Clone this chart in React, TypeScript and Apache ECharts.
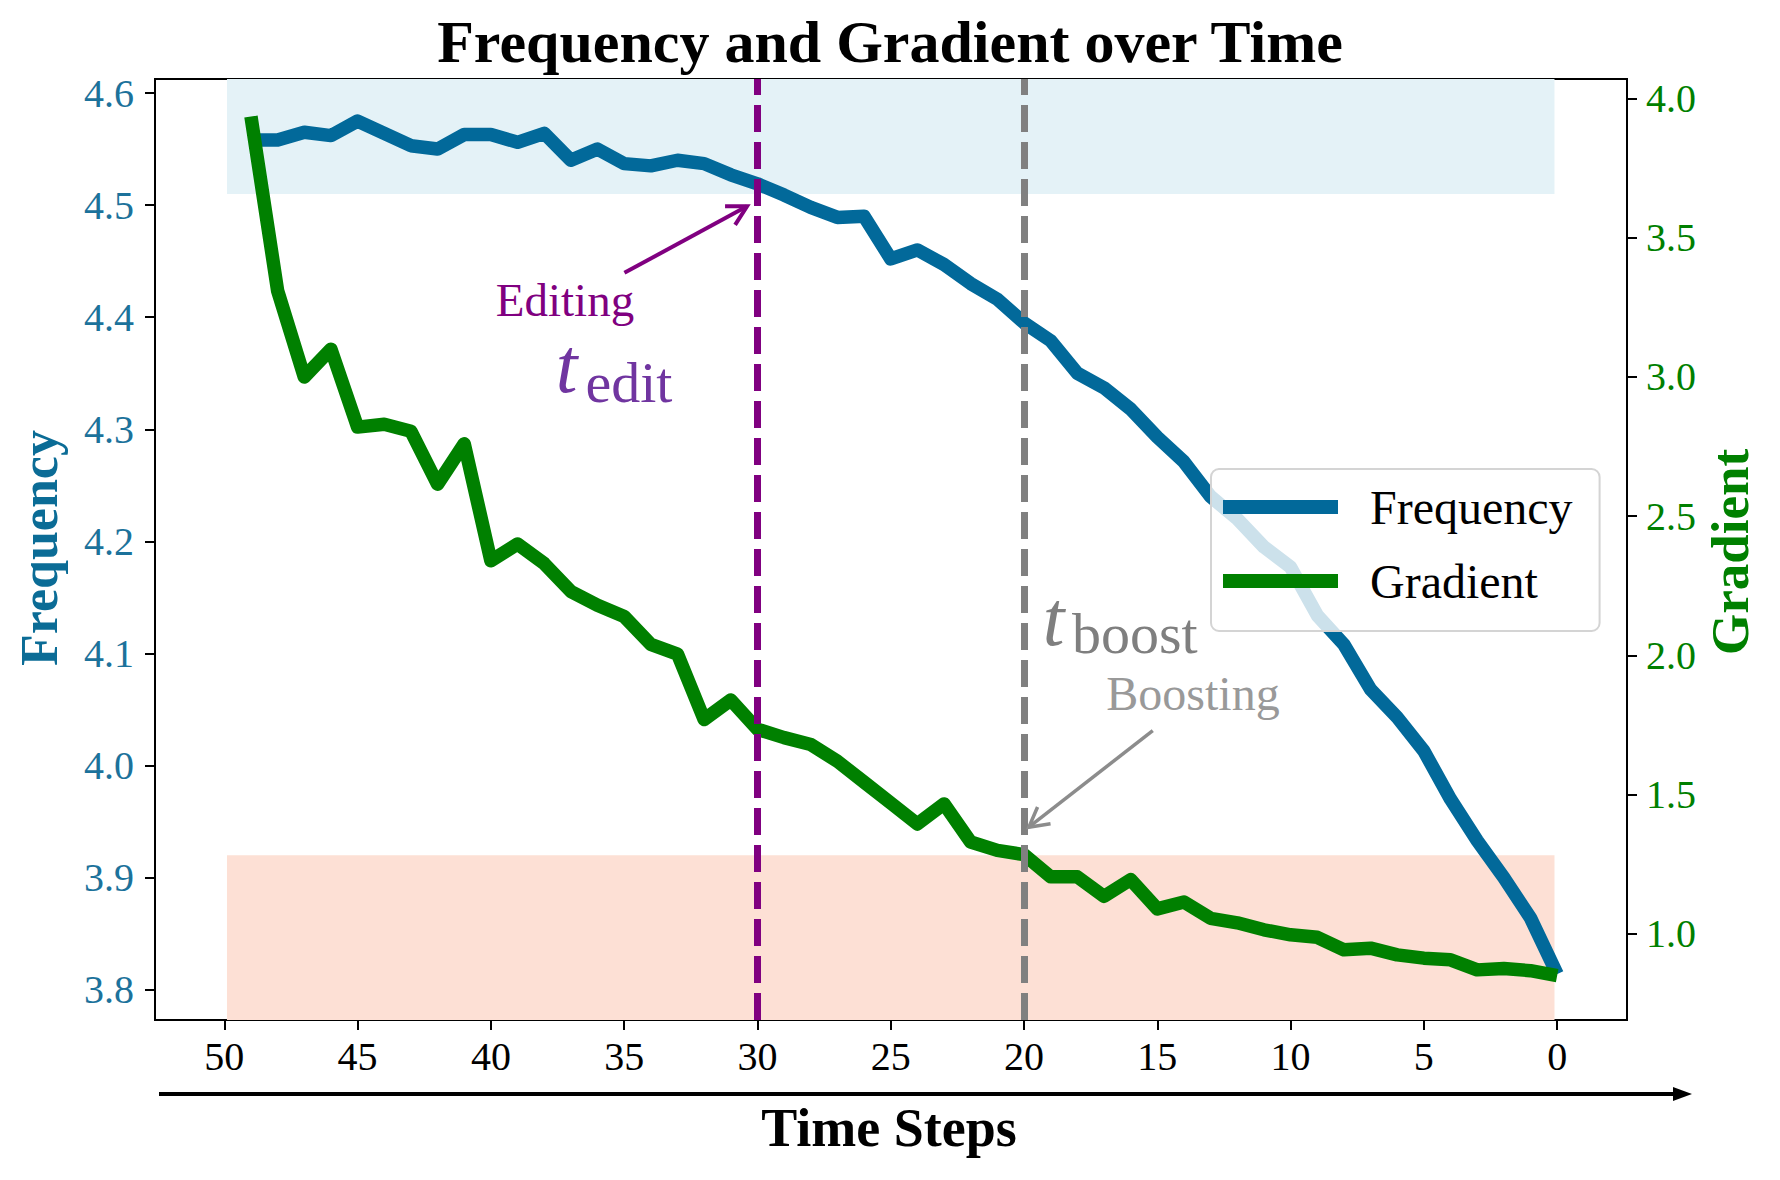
import React, { useEffect, useRef } from "react";
import * as echarts from "echarts";

// ---- data ----
const timeSteps = [49, 48, 47, 46, 45, 44, 43, 42, 41, 40, 39, 38, 37, 36, 35, 34, 33, 32, 31, 30, 29, 28, 27, 26, 25, 24, 23, 22, 21, 20, 19, 18, 17, 16, 15, 14, 13, 12, 11, 10, 9, 8, 7, 6, 5, 4, 3, 2, 1, 0];
const frequency = [4.558, 4.558, 4.565, 4.562, 4.575, 4.564, 4.553, 4.55, 4.563, 4.563, 4.556, 4.564, 4.54, 4.55, 4.537, 4.535, 4.54, 4.537, 4.527, 4.519, 4.509, 4.498, 4.489, 4.49, 4.452, 4.46, 4.447, 4.43, 4.416, 4.395, 4.379, 4.35, 4.337, 4.318, 4.293, 4.271, 4.24, 4.22, 4.195, 4.177, 4.134, 4.108, 4.068, 4.043, 4.013, 3.97, 3.933, 3.9, 3.864, 3.814];
const gradient = [3.935, 3.31, 3.0, 3.1, 2.82, 2.83, 2.805, 2.615, 2.76, 2.34, 2.4, 2.33, 2.23, 2.18, 2.14, 2.04, 2.005, 1.77, 1.84, 1.735, 1.705, 1.68, 1.62, 1.545, 1.47, 1.395, 1.467, 1.33, 1.3, 1.285, 1.205, 1.205, 1.135, 1.195, 1.09, 1.115, 1.056, 1.04, 1.015, 0.997, 0.988, 0.943, 0.949, 0.925, 0.913, 0.907, 0.871, 0.876, 0.868, 0.85];
const xTicks = [0, 5, 10, 15, 20, 25, 30, 35, 40, 45, 50];
const freqTicks = [3.8, 3.9, 4.0, 4.1, 4.2, 4.3, 4.4, 4.5, 4.6];
const gradTicks = [1.0, 1.5, 2.0, 2.5, 3.0, 3.5, 4.0];
const editStep = 30;
const boostStep = 20;
const highBand = [4.51, 4.6125];
const lowBand = [3.773, 3.92];
const bandSpan = [49.9, 0.1];

const SERIF = "'Liberation Serif', 'Times New Roman', serif";
const BLUE = "#02699a";
const GREEN = "#008000";
const PURPLE = "#800080";
const GRAY = "#808080";
const DASH = [27, 10];
const LINE_W = 13.5;

function arrowHead(tip: number[], from: number[], len: number, ang: number) {
  const dx = from[0] - tip[0];
  const dy = from[1] - tip[1];
  const d = Math.hypot(dx, dy);
  const ux = dx / d;
  const uy = dy / d;
  const rot = (a: number) => [
    tip[0] + len * (ux * Math.cos(a) - uy * Math.sin(a)),
    tip[1] + len * (ux * Math.sin(a) + uy * Math.cos(a)),
  ];
  return [rot(ang), tip, rot(-ang)];
}

export default function App() {
  const ref = useRef<HTMLDivElement>(null);
  useEffect(() => {
    if (!ref.current) return;
    const chart = echarts.init(ref.current, null, { renderer: "svg" });
    const option: any = {
      animation: false,
      backgroundColor: "#ffffff",
      grid: {
        left: 155,
        top: 79,
        width: 1472,
        height: 941,
        show: true,
        borderColor: "#000",
        borderWidth: 2,
        backgroundColor: "transparent",
      },
      legend: {
        show: true,
        data: ["Frequency", "Gradient"],
        orient: "vertical",
        left: 1211,
        top: 469,
        padding: [12, 27, 24, 12],
        itemWidth: 115,
        itemHeight: 14,
        itemGap: 22,
        icon: "rect",
        selectedMode: false,
        backgroundColor: "rgba(255,255,255,0.8)",
        borderColor: "#d4d4d4",
        borderWidth: 2,
        borderRadius: 8,
        textStyle: {
          fontFamily: SERIF,
          fontSize: 48,
          lineHeight: 52,
          color: "#000",
          padding: [0, 0, 0, 27],
        },
      },
      xAxis: {
        type: "value",
        min: -2.62,
        max: 52.6,
        inverse: true,
        splitLine: { show: false },
        axisLine: { show: true, onZero: false, lineStyle: { color: "#000", width: 2 } },
        axisTick: { show: true, customValues: xTicks, length: 10, lineStyle: { color: "#000", width: 2 } },
        axisLabel: {
          customValues: xTicks,
          fontFamily: SERIF,
          fontSize: 40,
          color: "#000",
          margin: 16,
          formatter: (v: number) => String(v),
        },
      },
      yAxis: [
        {
          type: "value",
          min: 3.773,
          max: 4.6125,
          position: "left",
          splitLine: { show: false },
          axisLine: { show: true, onZero: false, lineStyle: { color: "#000", width: 2 } },
          axisTick: { show: true, customValues: freqTicks, length: 10, lineStyle: { color: "#000", width: 2 } },
          axisLabel: {
            customValues: freqTicks,
            fontFamily: SERIF,
            fontSize: 40,
            color: "#1c729b",
            margin: 21,
            formatter: (v: number) => v.toFixed(1),
          },
        },
        {
          type: "value",
          min: 0.691,
          max: 4.07,
          position: "right",
          splitLine: { show: false },
          axisLine: { show: true, onZero: false, lineStyle: { color: "#000", width: 2 } },
          axisTick: { show: true, customValues: gradTicks, length: 10, lineStyle: { color: "#000", width: 2 } },
          axisLabel: {
            customValues: gradTicks,
            fontFamily: SERIF,
            fontSize: 40,
            color: GREEN,
            margin: 19,
            formatter: (v: number) => v.toFixed(1),
          },
        },
      ],
      series: [
        {
          name: "bands",
          type: "line",
          data: [],
          xAxisIndex: 0,
          yAxisIndex: 0,
          z: 1,
          silent: true,
          markArea: {
            silent: true,
            data: [
              [
                { xAxis: bandSpan[0], yAxis: highBand[0], itemStyle: { color: "#e4f2f7" } },
                { xAxis: bandSpan[1], yAxis: highBand[1] },
              ],
              [
                { xAxis: bandSpan[0], yAxis: lowBand[0], itemStyle: { color: "#fde0d5" } },
                { xAxis: bandSpan[1], yAxis: lowBand[1] },
              ],
            ],
          },
        },
        {
          name: "Frequency",
          type: "line",
          xAxisIndex: 0,
          yAxisIndex: 0,
          z: 2,
          showSymbol: false,
          symbol: "none",
          color: BLUE,
          itemStyle: { color: BLUE },
          lineStyle: { color: BLUE, width: LINE_W, join: "round", cap: "butt" },
          data: timeSteps.map((t, i) => [t, frequency[i]]),
        },
        {
          name: "Gradient",
          type: "line",
          xAxisIndex: 0,
          yAxisIndex: 1,
          z: 3,
          showSymbol: false,
          symbol: "none",
          color: GREEN,
          itemStyle: { color: GREEN },
          lineStyle: { color: GREEN, width: LINE_W, join: "round", cap: "butt" },
          data: timeSteps.map((t, i) => [t, gradient[i]]),
        },
        {
          name: "markers",
          type: "line",
          data: [],
          xAxisIndex: 0,
          yAxisIndex: 0,
          z: 4,
          silent: true,
          markLine: {
            silent: true,
            symbol: ["none", "none"],
            label: { show: false },
            lineStyle: { width: 7, type: DASH },
            data: [
              { xAxis: editStep, lineStyle: { color: PURPLE, width: 7, type: DASH } },
              { xAxis: boostStep, lineStyle: { color: GRAY, width: 7, type: DASH } },
            ],
          },
        },
      ],
    };
    chart.setOption(option);

    const px = (t: number, v: number) =>
      chart.convertToPixel({ xAxisIndex: 0, yAxisIndex: 0 }, [t, v]) as number[];

    const editFrom = px(34.99, 4.4396);
    const editTo = px(30.39, 4.4989);
    const boostFrom = px(15.17, 4.0312);
    const boostTo = px(19.82, 3.945);
    const editingPos = px(37.22, 4.4149);
    const tEditPos = px(37.57, 4.3565);
    const editSubPos = px(36.45, 4.3417);
    const tBoostPos = px(19.3, 4.1315);
    const boostSubPos = px(18.2, 4.1178);
    const boostingPos = px(13.66, 4.0641);

    const graphic: any[] = [
      {
        type: "text",
        x: 890,
        y: 42,
        z: 100,
        style: {
          text: "Frequency and Gradient over Time",
          fontFamily: SERIF,
          fontSize: 60,
          fontWeight: "bold",
          fill: "#000",
          align: "center",
          verticalAlign: "middle",
        },
      },
      {
        type: "text",
        x: 889,
        y: 1128,
        z: 100,
        style: {
          text: "Time Steps",
          fontFamily: SERIF,
          fontSize: 54,
          fontWeight: "bold",
          fill: "#000",
          align: "center",
          verticalAlign: "middle",
        },
      },
      {
        type: "text",
        x: 39,
        y: 548,
        rotation: Math.PI / 2,
        z: 100,
        style: {
          text: "Frequency",
          fontFamily: SERIF,
          fontSize: 52,
          fontWeight: "bold",
          fill: "#0b6c96",
          align: "center",
          verticalAlign: "middle",
        },
      },
      {
        type: "text",
        x: 1730,
        y: 552,
        rotation: Math.PI / 2,
        z: 100,
        style: {
          text: "Gradient",
          fontFamily: SERIF,
          fontSize: 53,
          fontWeight: "bold",
          fill: GREEN,
          align: "center",
          verticalAlign: "middle",
        },
      },
      {
        type: "line",
        z: 100,
        shape: { x1: 159, y1: 1094, x2: 1678, y2: 1094 },
        style: { stroke: "#000", lineWidth: 4 },
      },
      {
        type: "polygon",
        z: 100,
        shape: { points: [[1692, 1094], [1673, 1087], [1673, 1101]] },
        style: { fill: "#000" },
      },
      // Editing annotation
      {
        type: "line",
        z: 100,
        shape: { x1: editFrom[0], y1: editFrom[1], x2: editTo[0], y2: editTo[1] },
        style: { stroke: PURPLE, lineWidth: 4 },
      },
      {
        type: "polyline",
        z: 100,
        shape: { points: arrowHead(editTo, editFrom, 22, 0.5) },
        style: { stroke: PURPLE, lineWidth: 4, fill: null },
      },
      {
        type: "text",
        x: editingPos[0],
        y: editingPos[1],
        z: 100,
        style: {
          text: "Editing",
          fontFamily: SERIF,
          fontSize: 47,
          fill: PURPLE,
          align: "center",
          verticalAlign: "middle",
        },
      },
      {
        type: "text",
        x: tEditPos[0],
        y: tEditPos[1],
        z: 100,
        style: {
          text: "t",
          fontFamily: SERIF,
          fontStyle: "italic",
          fontSize: 78,
          fill: "#7035a0",
          align: "left",
          verticalAlign: "middle",
        },
      },
      {
        type: "text",
        x: editSubPos[0],
        y: editSubPos[1],
        z: 100,
        style: {
          text: "edit",
          fontFamily: SERIF,
          fontSize: 58,
          fill: "#7035a0",
          align: "left",
          verticalAlign: "middle",
        },
      },
      // Boosting annotation
      {
        type: "text",
        x: tBoostPos[0],
        y: tBoostPos[1],
        z: 100,
        style: {
          text: "t",
          fontFamily: SERIF,
          fontStyle: "italic",
          fontSize: 78,
          fill: "#7f7f7f",
          align: "left",
          verticalAlign: "middle",
        },
      },
      {
        type: "text",
        x: boostSubPos[0],
        y: boostSubPos[1],
        z: 100,
        style: {
          text: "boost",
          fontFamily: SERIF,
          fontSize: 58,
          fill: "#7f7f7f",
          align: "left",
          verticalAlign: "middle",
        },
      },
      {
        type: "text",
        x: boostingPos[0],
        y: boostingPos[1],
        z: 100,
        style: {
          text: "Boosting",
          fontFamily: SERIF,
          fontSize: 48,
          fill: "#999999",
          align: "center",
          verticalAlign: "middle",
        },
      },
      {
        type: "line",
        z: 100,
        shape: { x1: boostFrom[0], y1: boostFrom[1], x2: boostTo[0], y2: boostTo[1] },
        style: { stroke: "#8c8c8c", lineWidth: 3.5 },
      },
      {
        type: "polyline",
        z: 100,
        shape: { points: arrowHead(boostTo, boostFrom, 22, 0.5) },
        style: { stroke: "#8c8c8c", lineWidth: 3.5, fill: null },
      },
    ];
    chart.setOption({ graphic });

    return () => chart.dispose();
  }, []);

  return (
    <div
      ref={ref}
      style={{ position: "fixed", left: 0, top: 0, width: 1780, height: 1180, background: "#fff" }}
    />
  );
}
